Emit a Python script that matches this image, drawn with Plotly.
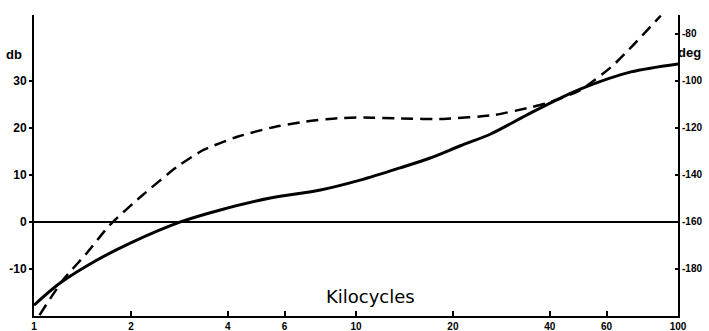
import plotly.graph_objects as go

# Amplitude (db) curve
amp_khz = [1.0, 1.205, 1.57, 1.99, 2.85, 3.79, 5.42, 7.75, 10.3, 13.7, 17.0, 21.1, 26.2, 34.9, 43.3, 49.9, 71.4, 100]
amp_db = [-17.7, -13.0, -8.1, -4.5, 0.0, 2.55, 5.1, 6.8, 8.9, 11.5, 13.6, 16.2, 18.7, 23.2, 26.4, 28.3, 31.9, 33.6]

# Phase (deg) curve
ph_khz = [1.04, 1.23, 1.46, 1.72, 2.14, 2.78, 3.36, 4.28, 5.42, 6.92, 8.77, 10.6, 13.7, 18.7, 26.9, 34.2, 39.4, 49.9, 63.1, 88.4]
ph_deg = [-199.6, -184.7, -173.2, -161.3, -149.4, -136.6, -129.4, -123.8, -120.0, -117.4, -115.9, -115.6, -116.0, -116.2, -114.5, -111.5, -109.4, -103.8, -93.2, -72.3]

x_ticks = [1, 2, 4, 6, 10, 20, 40, 60, 100]
x_ticktext = ["1", "2", "4", "6", "10", "20", "40", "60", "100"]
db_ticks = [-10, 0, 10, 20, 30]
db_ticktext = ["-10", "0", "10", "20", "30"]
deg_ticks = [-180, -160, -140, -120, -100, -80]
deg_ticktext = ["-180", "-160", "-140", "-120", "-100", "-80"]

fig = go.Figure()
fig.add_trace(go.Scatter(x=amp_khz, y=amp_db, mode="lines",
                         line=dict(color="black", width=3, shape="spline", smoothing=0.8),
                         showlegend=False, yaxis="y"))
fig.add_trace(go.Scatter(x=ph_khz, y=ph_deg, mode="lines",
                         line=dict(color="black", width=2.5, dash="12px,7px", shape="spline", smoothing=0.6),
                         showlegend=False, yaxis="y2"))

fam = "Liberation Sans, Arial, sans-serif"

fig.update_layout(
    width=709, height=331,
    margin=dict(l=34, r=31, t=15, b=15, autoexpand=False),
    paper_bgcolor="white", plot_bgcolor="white",
    xaxis=dict(type="log", range=[0, 2], tickvals=x_ticks, ticktext=x_ticktext,
               showgrid=False, zeroline=False, showline=True, linecolor="black", linewidth=2,
               ticks="inside", ticklen=5, tickwidth=2, tickcolor="black", automargin=False,
               tickfont=dict(family=fam, size=10, color="black", weight="bold"), ticklabelstandoff=0),
    yaxis=dict(range=[-20.0, 44.0], tickvals=db_ticks, ticktext=db_ticktext,
               showgrid=False, zeroline=True, zerolinecolor="black", zerolinewidth=1.5,
               showline=True, linecolor="black", linewidth=2, automargin=False,
               ticks="outside", ticklen=3, tickwidth=2, tickcolor="black",
               tickfont=dict(family=fam, size=12, color="black", weight="bold"),
               ticklabelstandoff=0),
    yaxis2=dict(range=[-200.0, -72.0], overlaying="y", side="right",
                tickvals=deg_ticks, ticktext=deg_ticktext, automargin=False,
                showgrid=False, zeroline=False, showline=True, linecolor="black", linewidth=2,
                ticks="inside", ticklen=3, tickwidth=2, tickcolor="black",
                tickfont=dict(family=fam, size=10, color="black", weight="bold"),
                ticklabelstandoff=0),
    annotations=[
        dict(text="Kilocycles", xref="paper", yref="paper", x=0.523, y=0.066,
             showarrow=False, font=dict(family="DejaVu Sans, sans-serif", size=18, color="black"),
             xanchor="center", yanchor="middle"),
        dict(text="db", xref="paper", yref="paper", x=-0.031, y=0.868,
             showarrow=False, font=dict(family=fam, size=13, color="black", weight="bold"),
             xanchor="center", yanchor="middle"),
        dict(text="deg", xref="paper", yref="paper", x=1.0186, y=0.874,
             showarrow=False, font=dict(family=fam, size=13, color="black", weight="bold"),
             xanchor="center", yanchor="middle"),
    ],
)

fig.write_html("out.html", config={"displayModeBar": False},
               post_script="document.body.style.margin='0';document.body.style.padding='0';")
